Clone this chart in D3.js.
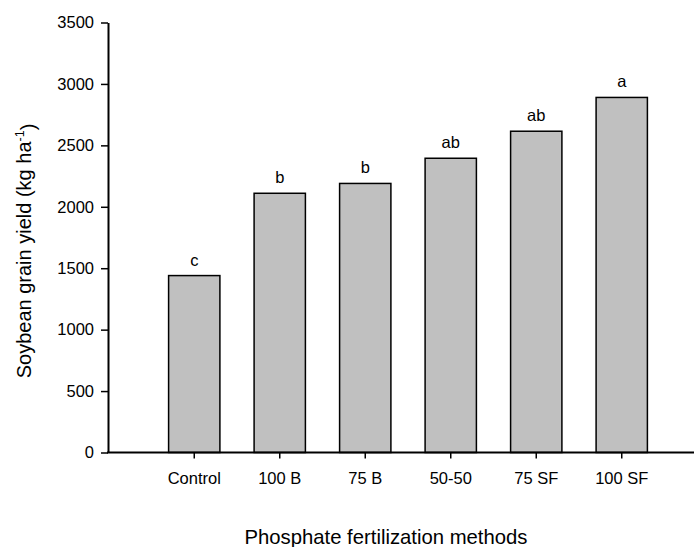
<!DOCTYPE html>
<html>
<head>
<meta charset="utf-8">
<script src="https://cdn.jsdelivr.net/npm/d3@7"></script>
<style>
  body { margin: 0; background: #fff; }
  svg { display: block; font-family: Arial, "Liberation Sans", sans-serif; }
</style>
</head>
<body>
<div id="chart"></div>
<script>
// chart data
const categories = ["Control", "100 B", "75 B", "50-50", "75 SF", "100 SF"];
const yields = [1440, 2110, 2190, 2395, 2615, 2890];
const letters = ["c", "b", "b", "ab", "ab", "a"];
const yTicks = [0, 500, 1000, 1500, 2000, 2500, 3000, 3500];

const W = 696, H = 547;
const axisX = 108, axisEnd = 694;

const svg = d3.select("#chart")
    .append("svg")
    .attr("width", W)
    .attr("height", H);

const x = d3.scaleBand()
    .domain(categories)
    .range([151.5, 664.5])
    .paddingInner(0.4)
    .paddingOuter(0.2);

const y = d3.scaleLinear()
    .domain([0, 3500])
    .range([452.5, 22.5]);

const data = categories.map((c, i) => ({ cat: c, val: yields[i], letter: letters[i] }));

// bars
svg.append("g")
    .selectAll("rect")
    .data(data)
    .enter().append("rect")
    .attr("x", d => x(d.cat))
    .attr("y", d => y(d.val))
    .attr("width", x.bandwidth())
    .attr("height", d => y(0) - y(d.val))
    .attr("fill", "#c0c0c0")
    .attr("stroke", "#000")
    .attr("stroke-width", 1.5);

// significance letters
svg.append("g")
    .selectAll("text")
    .data(data)
    .enter().append("text")
    .attr("x", d => x(d.cat) + x.bandwidth() / 2)
    .attr("y", d => y(d.val) - 10)
    .attr("text-anchor", "middle")
    .style("font-size", "16.5px")
    .attr("fill", "#000")
    .text(d => d.letter);

// y axis
const yAxis = svg.append("g")
    .attr("transform", `translate(${axisX},0)`)
    .call(d3.axisLeft(y).tickValues(yTicks).tickFormat(d3.format("d"))
        .tickSize(7).tickPadding(7).tickSizeOuter(0));
yAxis.select(".domain").attr("stroke-width", 2);
yAxis.selectAll(".tick line").attr("stroke-width", 1.5);
yAxis.selectAll("text").style("font-size", "16.5px").attr("fill", "#000");

// x axis
const xAxis = svg.append("g")
    .attr("transform", `translate(0,${y(0)})`)
    .call(d3.axisBottom(x).tickSize(6).tickPadding(14).tickSizeOuter(0));
xAxis.select(".domain").remove();
xAxis.selectAll(".tick line").attr("stroke-width", 1.5);
xAxis.selectAll("text").style("font-size", "16.5px").attr("fill", "#000");
xAxis.append("line")
    .attr("x1", axisX - 1)
    .attr("x2", axisEnd)
    .attr("y1", 0)
    .attr("y2", 0)
    .attr("stroke", "#000")
    .attr("stroke-width", 2);

// x axis title
svg.append("text")
    .attr("x", 386)
    .attr("y", 544)
    .attr("text-anchor", "middle")
    .style("font-size", "20.3px")
    .text("Phosphate fertilization methods");

// y axis title
const yTitle = svg.append("text")
    .attr("transform", "translate(31,251) rotate(-90)")
    .attr("text-anchor", "middle")
    .style("font-size", "20px");
yTitle.append("tspan").text("Soybean grain yield (kg ha");
yTitle.append("tspan").attr("dy", "-0.55em").style("font-size", "12.5px").text("-1");
yTitle.append("tspan").attr("dy", "0.55em").text(")");
</script>
</body>
</html>
